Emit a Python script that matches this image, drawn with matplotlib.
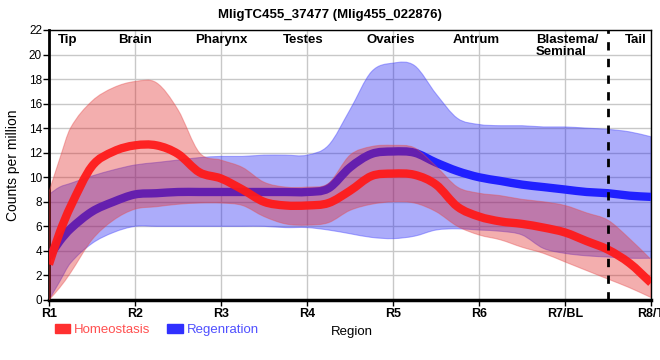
import numpy as np
import matplotlib
matplotlib.use("Agg")
from matplotlib import pyplot as plt
from matplotlib.patches import Patch, PathPatch
from matplotlib.path import Path

plt.rcParams['font.family'] = ['Liberation Sans', 'DejaVu Sans']

# positions along the body (1 = R1 ... 8 = R8/T)
pos = [1.0, 1.125, 1.25, 1.5, 1.75, 2.0, 2.25, 2.5, 2.75, 3.0, 3.25, 3.5, 3.75, 4.0,
       4.25, 4.5, 4.75, 5.0, 5.25, 5.5, 5.75, 6.0, 6.25, 6.5, 6.75, 7.0, 7.25, 7.5,
       7.75, 8.0]

homeo = [2.9, 5.5, 7.6, 10.9, 12.1, 12.6, 12.6, 11.9, 10.4, 9.9, 9.0, 8.0, 7.7, 7.7,
         7.9, 8.9, 10.1, 10.3, 10.2, 9.4, 7.6, 6.8, 6.4, 6.2, 5.9, 5.5, 4.8, 4.1, 3.0, 1.4]
homeo_hi = [8.8, 11.5, 14.0, 16.2, 17.3, 17.8, 17.7, 15.5, 12.0, 11.4, 10.8, 9.6, 9.2, 9.2,
            9.5, 11.8, 12.5, 12.6, 12.4, 10.9, 9.2, 8.7, 8.5, 8.2, 8.0, 7.7, 7.1, 6.5, 5.0, 3.3]
homeo_lo = [0.0, 1.0, 2.2, 4.9, 6.5, 7.4, 7.6, 7.8, 7.9, 7.9, 7.7, 6.8, 6.2, 6.1,
            6.3, 7.3, 7.8, 8.0, 7.9, 7.2, 6.0, 5.3, 4.9, 4.3, 3.8, 3.1, 2.4, 1.7, 1.0, 0.2]

regen = [3.5, 4.8, 5.8, 7.2, 8.0, 8.6, 8.7, 8.8, 8.8, 8.8, 8.8, 8.8, 8.8, 8.8,
         9.1, 10.8, 11.9, 12.1, 12.0, 11.2, 10.5, 10.0, 9.7, 9.4, 9.2, 9.0, 8.8, 8.7, 8.5, 8.4]
regen_hi = [8.6, 9.2, 9.5, 10.1, 10.6, 11.0, 11.2, 11.4, 11.6, 11.7, 11.7, 11.8, 11.8, 11.8,
            12.6, 15.5, 18.6, 19.3, 19.1, 16.8, 14.8, 14.3, 14.2, 14.2, 14.1, 14.1, 14.0, 13.9, 13.7, 13.3]
regen_lo = [0.0, 1.5, 3.0, 4.6, 5.5, 6.0, 6.0, 6.0, 6.0, 6.0, 6.0, 6.0, 5.9, 5.9,
            5.7, 5.4, 5.1, 5.0, 5.2, 5.7, 5.8, 5.7, 5.6, 5.3, 4.2, 3.8, 3.6, 3.5, 3.4, 3.4]

tick_labels = ["R1", "R2", "R3", "R4", "R5", "R6", "R7/BL", "R8/T"]
regions = ["Tip", "Brain", "Pharynx", "Testes", "Ovaries", "Antrum", "Blastema/\nSeminal", "Tail"]
region_x = [1.22, 2.0, 3.0, 3.95, 4.97, 5.97, 6.66, 7.82]


def smooth_verts(xs, ys):
    # cubic bezier pieces through the points, for drawing only
    p = np.column_stack([xs, ys]).astype(float)
    n = len(p)
    verts = [p[0]]
    codes = [Path.MOVETO]
    for i in range(n - 1):
        a = p[max(i - 1, 0)]
        b = p[i]
        c = p[i + 1]
        d = p[min(i + 2, n - 1)]
        h = c[0] - b[0]
        m1 = (c - a) / (c[0] - a[0])
        m2 = (d - b) / (d[0] - b[0])
        verts += [b + m1 * h / 3, c - m2 * h / 3, c]
        codes += [Path.CURVE4] * 3
    return verts, codes


def smooth_line(ax, xs, ys, **kw):
    v, c = smooth_verts(xs, ys)
    ax.add_patch(PathPatch(Path(v, c), fill=False, **kw))


def smooth_band(ax, xs, lo, hi, **kw):
    v1, c1 = smooth_verts(xs, hi)
    v2, c2 = smooth_verts(xs[::-1], lo[::-1])
    c2[0] = Path.LINETO
    verts = v1 + v2 + [v1[0]]
    codes = c1 + c2 + [Path.CLOSEPOLY]
    ax.add_patch(PathPatch(Path(verts, codes), **kw))


fig = plt.figure(figsize=(6.6, 3.6), dpi=100)
ax = fig.add_axes([0.0742, 0.1667, 0.9122, 0.75])

smooth_band(ax, pos, regen_lo, regen_hi, facecolor=(0.1, 0.1, 0.95, 0.36),
            edgecolor=(0.3, 0.3, 1.0, 0.45), lw=0.8, zorder=2)
smooth_line(ax, pos, regen, edgecolor="#2020ff", lw=6, capstyle="butt", zorder=3)
smooth_band(ax, pos, homeo_lo, homeo_hi, facecolor=(0.88, 0.12, 0.12, 0.36),
            edgecolor=(0.9, 0.3, 0.3, 0.4), lw=0.8, zorder=4)
smooth_line(ax, pos, homeo, edgecolor=(1.0, 0.1, 0.1, 0.95), lw=6, capstyle="butt", zorder=5)

ax.axvline(7.5, color="black", lw=2, ls=(0, (3, 3)), zorder=6)

ax.set_xlim(1, 8)
ax.set_ylim(0, 22)
ax.set_yticks(np.arange(0, 23, 2))
ax.set_xticks(range(1, 9))
ax.set_xticklabels(tick_labels, fontweight="bold", fontsize=9)
ax.tick_params(axis="y", labelsize=8.5, length=4, width=1, pad=1)
ax.tick_params(axis="x", length=4, width=1, pad=2)
ax.grid(True, color="#c8c8c8", lw=1, zorder=0)
ax.set_axisbelow(True)

for side in ["top", "right"]:
    ax.spines[side].set_linewidth(1)
ax.spines["left"].set_linewidth(2)
ax.spines["bottom"].set_linewidth(2.5)

ax.set_ylabel("Counts per million", fontsize=10, labelpad=6)

for rx, name in zip(region_x, regions):
    ha = "left" if "/" in name else "center"
    ax.text(rx, 21.7, name, ha=ha, va="top", fontsize=9.5, fontweight="bold",
            linespacing=1.0, zorder=7)

fig.text(0.5, 0.975, "MligTC455_37477 (Mlig455_022876)", ha="center", va="top",
         fontsize=9.5, fontweight="bold")

handles = [Patch(color="#ff3030", label="Homeostasis"),
           Patch(color="#3030ff", label="Regenration")]
leg = fig.legend(handles=handles, loc="center left", bbox_to_anchor=(0.083, 0.083),
                 ncol=2, frameon=False, fontsize=9.5, handlelength=1.15,
                 handleheight=0.6, handletextpad=0.3, columnspacing=1.3,
                 borderaxespad=0, borderpad=0)
for t, c in zip(leg.get_texts(), ["#ff5050", "#5050ff"]):
    t.set_color(c)
fig.text(0.533, 0.078, "Region", ha="center", va="center", fontsize=9.5)

fig.savefig("out.png", dpi=100)
